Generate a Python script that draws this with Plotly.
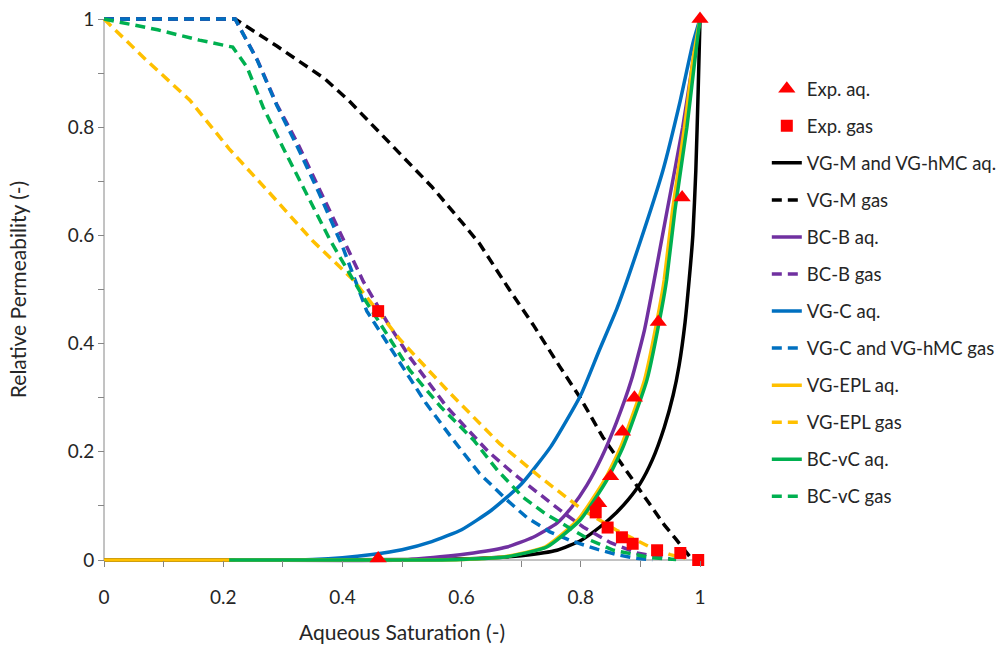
import plotly.graph_objects as go

# ---------------- data ----------------
exp_aq_x = [0.46, 0.83, 0.85, 0.87, 0.89, 0.93, 0.97, 1.0]
exp_aq_y = [0.003, 0.105, 0.155, 0.237, 0.30, 0.44, 0.67, 1.0]

exp_gas_x = [0.46, 0.825, 0.845, 0.869, 0.887, 0.928, 0.967, 0.997]
exp_gas_y = [0.46, 0.088, 0.06, 0.042, 0.03, 0.018, 0.013, 0.0]

vgm_aq_x = [0.0, 0.22, 0.55, 0.6, 0.65, 0.7, 0.76, 0.8, 0.832, 0.86, 0.88, 0.9, 0.92, 0.94, 0.955, 0.965, 0.975, 0.982, 0.988, 0.993, 0.997, 1.0]
vgm_aq_y = [0.0, 0.0, 0.001, 0.002, 0.004, 0.008, 0.018, 0.036, 0.061, 0.088, 0.112, 0.142, 0.185, 0.245, 0.305, 0.36, 0.44, 0.52, 0.6, 0.72, 0.87, 1.0]

vgm_gas_x = [0.0, 0.22, 0.29, 0.37, 0.41, 0.48, 0.55, 0.6, 0.63, 0.68, 0.72, 0.765, 0.799, 0.837, 0.883, 0.91, 0.94, 0.96, 0.975, 0.983]
vgm_gas_y = [1.0, 1.0, 0.95, 0.89, 0.85, 0.77, 0.69, 0.625, 0.585, 0.5, 0.435, 0.357, 0.30, 0.227, 0.155, 0.11, 0.065, 0.038, 0.018, 0.006]

bcb_aq_x = [0.22, 0.5, 0.564, 0.62, 0.676, 0.72, 0.76, 0.785, 0.81, 0.835, 0.86, 0.885, 0.907, 0.921, 0.945, 0.971, 0.988, 1.0]
bcb_aq_y = [0.0, 0.0, 0.006, 0.013, 0.024, 0.042, 0.068, 0.098, 0.138, 0.19, 0.255, 0.333, 0.426, 0.505, 0.647, 0.80, 0.92, 1.0]

bcb_gas_x = [0.0, 0.22, 0.257, 0.29, 0.325, 0.36, 0.4, 0.435, 0.475, 0.513, 0.575, 0.645, 0.69, 0.732, 0.77, 0.804, 0.85, 0.894, 0.95]
bcb_gas_y = [1.0, 1.0, 0.925, 0.842, 0.77, 0.69, 0.595, 0.515, 0.44, 0.375, 0.283, 0.2, 0.157, 0.12, 0.088, 0.061, 0.032, 0.013, 0.002]

vgc_aq_x = [0.22, 0.35, 0.4, 0.45, 0.5, 0.55, 0.6, 0.65, 0.7, 0.75, 0.8, 0.83, 0.861, 0.899, 0.938, 0.966, 0.988, 1.0]
vgc_aq_y = [0.0, 0.001, 0.004, 0.01, 0.019, 0.034, 0.056, 0.092, 0.14, 0.21, 0.305, 0.385, 0.466, 0.586, 0.721, 0.845, 0.955, 1.0]

vgc_gas_x = [0.0, 0.22, 0.257, 0.29, 0.324, 0.36, 0.4, 0.441, 0.497, 0.54, 0.586, 0.63, 0.676, 0.71, 0.748, 0.785, 0.827, 0.86, 0.888, 0.92]
vgc_gas_y = [1.0, 1.0, 0.924, 0.84, 0.765, 0.68, 0.58, 0.46, 0.364, 0.29, 0.222, 0.16, 0.111, 0.078, 0.052, 0.035, 0.02, 0.01, 0.004, 0.0]

epl_aq_x = [0.0, 0.22, 0.55, 0.6, 0.672, 0.74, 0.795, 0.84, 0.867, 0.907, 0.932, 0.94, 0.954, 0.974, 0.989, 1.0]
epl_aq_y = [0.0, 0.0, 0.0, 0.001, 0.006, 0.024, 0.074, 0.148, 0.209, 0.333, 0.466, 0.518, 0.647, 0.80, 0.93, 1.0]

epl_gas_x = [0.0, 0.07, 0.144, 0.21, 0.284, 0.35, 0.418, 0.497, 0.58, 0.664, 0.732, 0.77, 0.804, 0.86, 0.916, 0.95, 0.975]
epl_gas_y = [1.0, 0.925, 0.85, 0.76, 0.671, 0.59, 0.518, 0.407, 0.309, 0.215, 0.153, 0.12, 0.092, 0.055, 0.024, 0.01, 0.003]

bcvc_aq_x = [0.21, 0.55, 0.6, 0.676, 0.743, 0.799, 0.844, 0.871, 0.911, 0.936, 0.944, 0.958, 0.978, 0.992, 1.0]
bcvc_aq_y = [0.0, 0.0, 0.001, 0.006, 0.024, 0.074, 0.148, 0.209, 0.333, 0.466, 0.518, 0.647, 0.80, 0.93, 1.0]

bcvc_gas_x = [0.0, 0.09, 0.16, 0.216, 0.24, 0.267, 0.3, 0.334, 0.38, 0.435, 0.513, 0.565, 0.62, 0.66, 0.703, 0.74, 0.777, 0.815, 0.855, 0.92, 0.96]
bcvc_gas_y = [1.0, 0.98, 0.961, 0.948, 0.911, 0.837, 0.763, 0.69, 0.59, 0.486, 0.351, 0.283, 0.222, 0.166, 0.116, 0.086, 0.061, 0.037, 0.018, 0.004, 0.001]

# ---------------- figure ----------------
BLACK = "#000000"
PURPLE = "#7030A0"
BLUE = "#0070C0"
YELLOW = "#FFC000"
GREEN = "#00B050"
RED = "#FF0000"
DASH = "10px,6px"
FONT = "Lato, Open Sans, sans-serif"
TXT = "#262626"
AX = "#868686"

series = [
    ("VG-M and VG-hMC aq.", vgm_aq_x, vgm_aq_y, BLACK, "solid"),
    ("VG-M gas", vgm_gas_x, vgm_gas_y, BLACK, DASH),
    ("BC-B aq.", bcb_aq_x, bcb_aq_y, PURPLE, "solid"),
    ("BC-B gas", bcb_gas_x, bcb_gas_y, PURPLE, DASH),
    ("VG-C aq.", vgc_aq_x, vgc_aq_y, BLUE, "solid"),
    ("VG-C and VG-hMC gas", vgc_gas_x, vgc_gas_y, BLUE, DASH),
    ("VG-EPL aq.", epl_aq_x, epl_aq_y, YELLOW, "solid"),
    ("VG-EPL gas", epl_gas_x, epl_gas_y, YELLOW, DASH),
    ("BC-vC aq.", bcvc_aq_x, bcvc_aq_y, GREEN, "solid"),
    ("BC-vC gas", bcvc_gas_x, bcvc_gas_y, GREEN, DASH),
]

fig = go.Figure()

for i, (name, xs, ys, col, dash) in enumerate(series):
    shape = "spline" if dash == "solid" else "linear"
    fig.add_trace(go.Scatter(
        x=xs, y=ys, mode="lines", name=name,
        line=dict(color=col, width=3.5, dash=dash, shape=shape, smoothing=0.5),
        legendgroup=f"g{i+2}", legendrank=i + 3, cliponaxis=False,
    ))

fig.add_trace(go.Scatter(
    x=exp_aq_x, y=exp_aq_y, mode="markers", name="Exp. aq.",
    marker=dict(symbol="triangle-up", size=15, color=RED),
    legendgroup="g0", legendrank=1, cliponaxis=False,
))
fig.add_trace(go.Scatter(
    x=exp_gas_x, y=exp_gas_y, mode="markers", name="Exp. gas",
    marker=dict(symbol="square", size=12, color=RED),
    legendgroup="g1", legendrank=2, cliponaxis=False,
))

# plot area padded by 5 px on every side so lines on the axes are not clipped
PAD = 5
L, R, T, B = 99, 296, 14, 94
PW = 1001 - L - R          # 606
PH = 659 - T - B           # 551
ex = PAD / (PW - 2 * PAD)
ey = PAD / (PH - 2 * PAD)

axis_common = dict(
    showline=False, showgrid=False, zeroline=False,
    anchor="free",
    ticks="outside", ticklen=6, tickcolor=AX, tickwidth=1,
    tickfont=dict(family=FONT, size=19, color=TXT),
    tickvals=[0, 0.2, 0.4, 0.6, 0.8, 1.0],
    ticktext=["0", "0.2", "0.4", "0.6", "0.8", "1"],
    minor=dict(ticks="outside", dtick=0.1, ticklen=6, tickcolor=AX, tickwidth=1),
)

fig.update_xaxes(
    **axis_common,
    range=[-ex, 1 + ex],
    position=PAD / PH,
    ticklabelstandoff=14,
    title=dict(text="Aqueous Saturation (-)",
               font=dict(family=FONT, size=21, color=TXT),
               standoff=18),
)
fig.update_yaxes(
    **axis_common,
    range=[-ey, 1 + ey],
    position=PAD / PW,
    title=dict(text="Relative Permeability (-)",
               font=dict(family=FONT, size=21, color=TXT),
               standoff=34),
)

# axis lines
fig.add_shape(type="line", xref="x", yref="y", x0=0, x1=1, y0=0, y1=0,
              line=dict(color=AX, width=1), layer="below")
fig.add_shape(type="line", xref="x", yref="y", x0=0, x1=0, y0=0, y1=1,
              line=dict(color=AX, width=1), layer="below")

fig.update_layout(
    width=1001, height=659,
    margin=dict(l=L, r=R, t=T, b=B, autoexpand=False),
    plot_bgcolor="white", paper_bgcolor="white",
    showlegend=True,
    legend=dict(
        x=1.102, y=0.898, xanchor="left", yanchor="top",
        font=dict(family=FONT, size=18.5, color=TXT),
        tracegroupgap=10, traceorder="grouped",
        bgcolor="rgba(0,0,0,0)",
    ),
)

fig.write_html("out.html")
